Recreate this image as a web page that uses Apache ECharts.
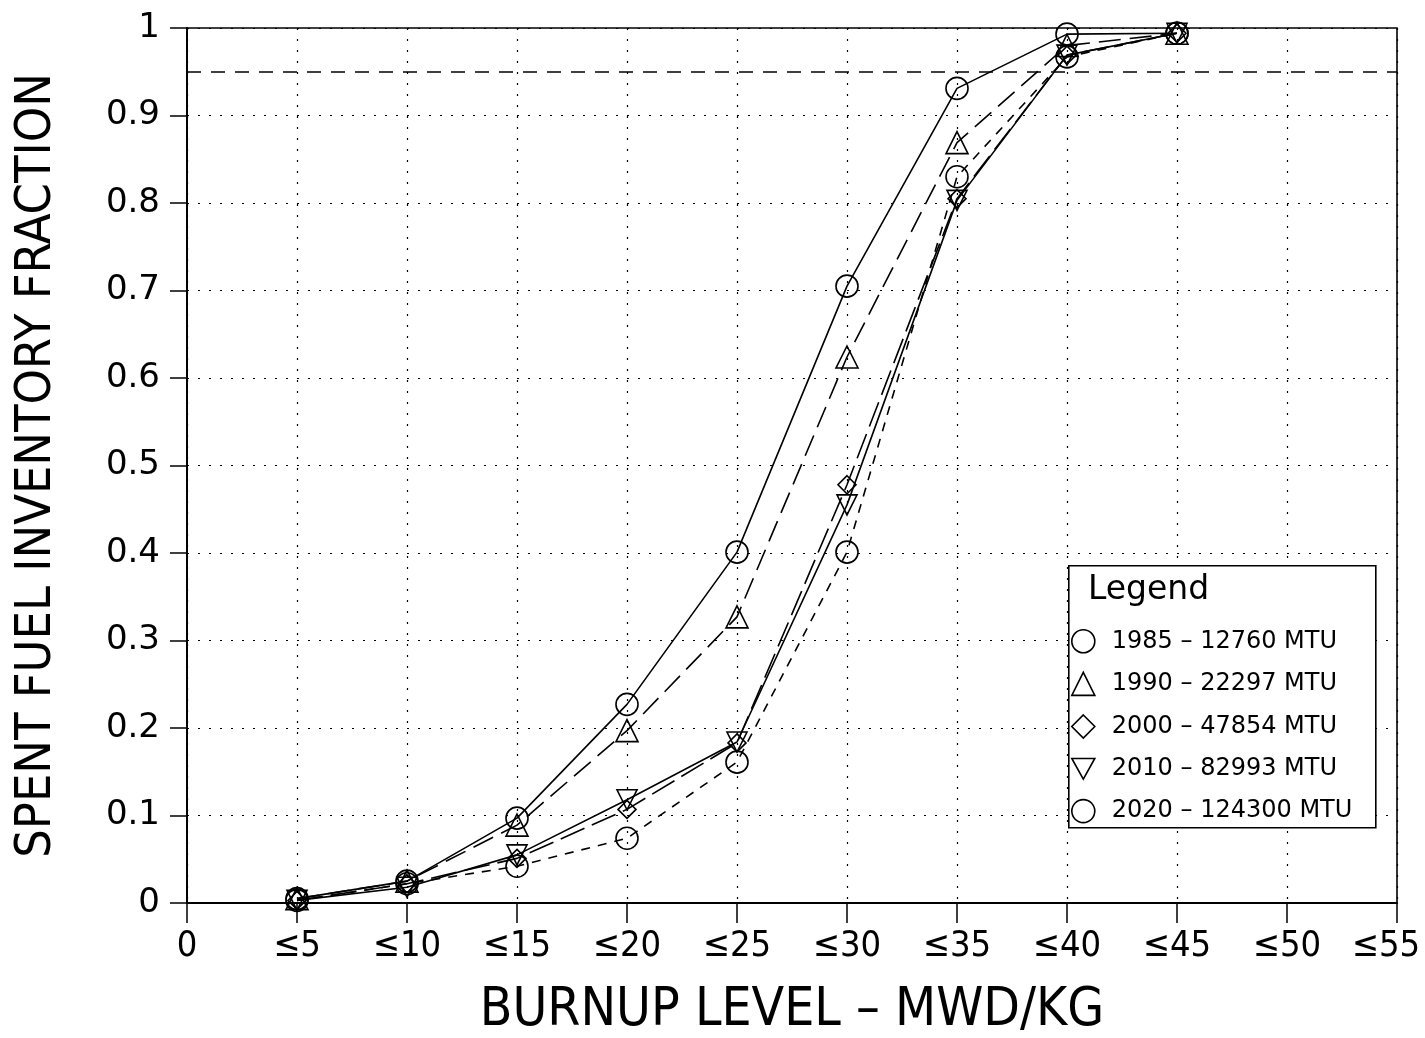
<!DOCTYPE html>
<html>
<head>
<meta charset="utf-8">
<script src="https://cdn.jsdelivr.net/npm/echarts@6/dist/echarts.min.js"></script>
<style>html,body{margin:0;padding:0;background:#fff}#c{width:1425px;height:1038px}</style>
</head>
<body>
<div id="c"></div>
<script>
// Burnup level categories (MWD/KG upper bounds)
const burnup = [5, 10, 15, 20, 25, 30, 35, 40, 45];
const s1985 = [0.005, 0.025, 0.097, 0.227, 0.401, 0.705, 0.931, 0.993, 0.994];
const s1990 = [0.005, 0.025, 0.089, 0.197, 0.327, 0.624, 0.869, 0.980, 0.994];
const s2000 = [0.003, 0.022, 0.051, 0.107, 0.183, 0.478, 0.805, 0.969, 0.994];
const s2010 = [0.003, 0.018, 0.055, 0.118, 0.184, 0.455, 0.803, 0.969, 0.994];
const s2020 = [0.003, 0.022, 0.042, 0.074, 0.161, 0.401, 0.830, 0.967, 0.994];
const seriesNames = ['1985 – 12760 MTU', '1990 – 22297 MTU', '2000 – 47854 MTU', '2010 – 82993 MTU', '2020 – 124300 MTU'];
const refLevel = 0.95;

const condensed = '"DejaVu Sans Condensed", "Liberation Sans Narrow", "DejaVu Sans", sans-serif';
const downTri = 'path://M0,0 L10,0 L5,9 Z';
const symbols = ['circle', 'triangle', 'diamond', downTri, 'circle'];
const sizes = [22, 22, 18, 20, 22];
const dashes = ['solid', [22, 9], [26, 8], 'solid', [9, 8]];
const allData = [s1985, s1990, s2000, s2010, s2020];

const chart = echarts.init(document.getElementById('c'));
const series = allData.map((arr, i) => ({
  name: seriesNames[i],
  type: 'line',
  data: burnup.map((b, k) => [b, arr[k]]),
  symbol: symbols[i],
  symbolSize: sizes[i],
  showAllSymbol: true,
  lineStyle: { color: '#000', width: 1.6, type: dashes[i] },
  itemStyle: { color: 'rgba(255,255,255,0)', borderColor: '#000', borderWidth: 1.6 },
  emphasis: { disabled: true },
  z: 2
}));
series[0].markLine = {
  silent: true,
  symbol: 'none',
  label: { show: false },
  lineStyle: { color: '#000', width: 1.6, type: [14, 10] },
  data: [[{ coord: [0, refLevel] }, { coord: [55, refLevel] }]]
};

chart.setOption({
  animation: false,
  backgroundColor: '#fff',
  grid: { left: 187, right: 28, top: 28, bottom: 135, outerBoundsMode: 'none', containLabel: false,
    show: true, borderColor: '#000', borderWidth: 1.6, backgroundColor: 'transparent' },
  xAxis: {
    type: 'value', min: 0, max: 55, interval: 5,
    name: 'BURNUP LEVEL – MWD/KG', nameLocation: 'middle', nameGap: 82,
    nameTextStyle: { fontFamily: condensed, fontSize: 53, color: '#000' },
    axisLine: { lineStyle: { color: '#000', width: 2 } },
    axisTick: { show: true, inside: false, length: 20, lineStyle: { color: '#000', width: 1.5 } },
    axisLabel: { margin: 26, fontFamily: condensed, fontSize: 36, color: '#000',
      formatter: v => v === 0 ? '0' : (v === 55 ? '{last|≤' + v + '}' : '≤' + v),
      rich: { last: { fontFamily: condensed, fontSize: 36, color: '#000', padding: [0, 22, 0, 0] } } },
    splitLine: { show: true, lineStyle: { color: '#000', width: 1.2, type: [2, 9] } }
  },
  yAxis: {
    type: 'value', min: 0, max: 1, interval: 0.1,
    name: 'SPENT FUEL INVENTORY FRACTION', nameLocation: 'middle', nameGap: 125,
    nameTextStyle: { fontFamily: condensed, fontSize: 50, color: '#000' },
    axisLine: { lineStyle: { color: '#000', width: 2 } },
    axisTick: { show: true, length: 17, lineStyle: { color: '#000', width: 1.5 } },
    axisLabel: { margin: 27, fontFamily: 'DejaVu Sans', fontSize: 34, color: '#000' },
    splitLine: { show: true, lineStyle: { color: '#000', width: 1.2, type: [2, 9] } }
  },
  legend: {
    orient: 'vertical', left: 1066, top: 624, z: 5,
    itemWidth: 23, itemHeight: 23, itemGap: 18,
    textStyle: { fontFamily: 'DejaVu Sans', fontSize: 24, color: '#000', padding: [0, 0, 0, 12] },
    data: seriesNames.map((n, i) => ({ name: n, icon: symbols[i] })),
    itemStyle: { color: 'rgba(255,255,255,0)', borderColor: '#000', borderWidth: 1.6 },
    selectedMode: false
  },
  graphic: [
    { type: 'rect', left: 1068, top: 565, shape: { width: 307, height: 262 }, style: { fill: '#fff', stroke: '#000', lineWidth: 1.6 }, z: 3 },
    { type: 'text', left: 1088, top: 574, style: { text: 'Legend', font: '33px "DejaVu Sans"', fill: '#000' }, z: 4 }
  ],
  series: series
});
</script>
</body>
</html>
